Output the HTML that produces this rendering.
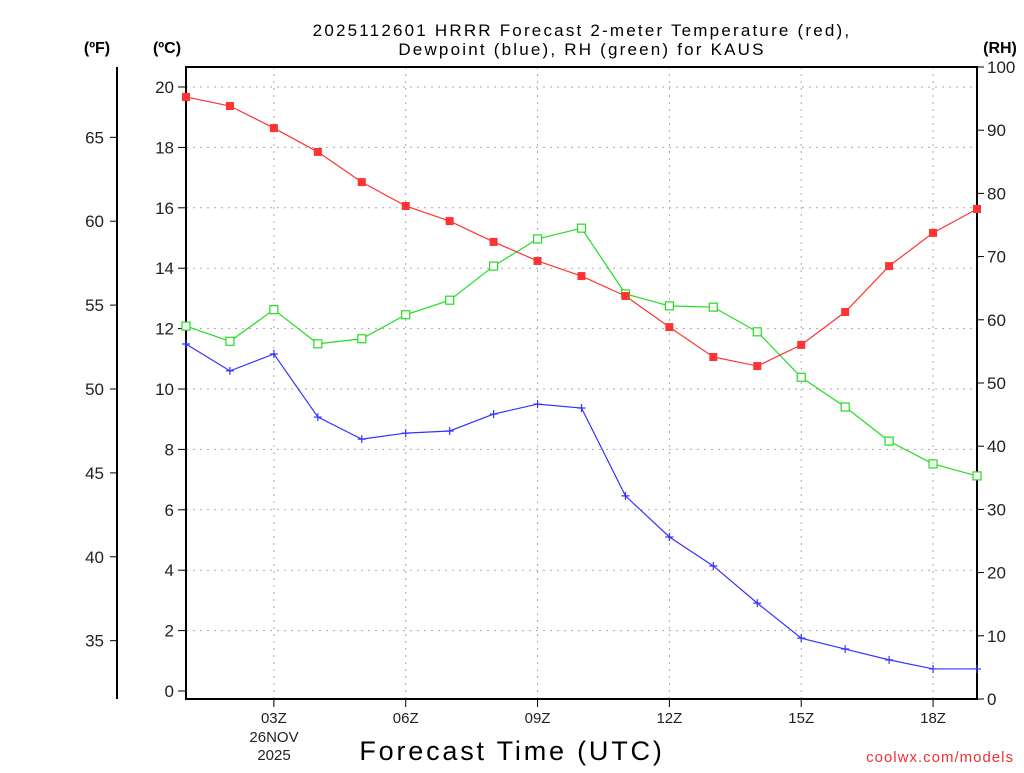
<!DOCTYPE html>
<html><head><meta charset="utf-8"><style>
body{margin:0;background:#fff;width:1024px;height:768px;overflow:hidden}
svg text{font-family:"Liberation Sans",sans-serif}
</style></head><body>
<svg id="chart" width="1024" height="768" xmlns="http://www.w3.org/2000/svg">
<g id="grid"></g>
<g id="axes"></g>
<g id="series"></g>
<text x="582" y="36" text-anchor="middle" font-size="17" letter-spacing="2.2" fill="#000">2025112601 HRRR Forecast 2-meter Temperature (red),</text>
<text x="582" y="55" text-anchor="middle" font-size="17" letter-spacing="2.2" fill="#000">Dewpoint (blue), RH (green) for KAUS</text>
<text x="97" y="53" text-anchor="middle" font-size="16" font-weight="bold">(ºF)</text>
<text x="167" y="53" text-anchor="middle" font-size="16" font-weight="bold">(ºC)</text>
<text x="1000" y="53" text-anchor="middle" font-size="16" font-weight="bold">(RH)</text>
<text x="512" y="760" text-anchor="middle" font-size="27" letter-spacing="2.8">Forecast Time (UTC)</text>
<text x="274" y="742" text-anchor="middle" font-size="15" fill="#222">26NOV</text>
<text x="274" y="760" text-anchor="middle" font-size="15" fill="#222">2025</text>
<text x="1014" y="762" text-anchor="end" font-size="15" fill="#e33" letter-spacing="1">coolwx.com/models</text>
</svg>
<script>
const hours=[1,2,3,4,5,6,7,8,9,10,11,12,13,14,15,16,17,18,19];
const tempC=[19.67,19.37,18.64,17.85,16.85,16.06,15.56,14.87,14.24,13.74,13.08,12.05,11.06,10.76,11.46,12.55,14.07,15.17,15.96];
const dewC=[11.49,10.6,11.16,9.07,8.34,8.54,8.61,9.17,9.5,9.37,6.46,5.1,4.14,2.91,1.75,1.39,1.03,0.73,0.73];
const rh=[59.0,56.6,61.6,56.2,57.0,60.8,63.1,68.5,72.8,74.5,64.1,62.2,62.0,58.1,50.9,46.2,40.8,37.2,35.3];
const cTicks=[0,2,4,6,8,10,12,14,16,18,20];
const fTicks=[35,40,45,50,55,60,65];
const rhTicks=[0,10,20,30,40,50,60,70,80,90,100];
const xTicks=[3,6,9,12,15,18];
const xTickLabels=["03Z","06Z","09Z","12Z","15Z","18Z"];
const L=186,R=977,T=67,B=699;
const x=h=>L+(h-1)*(R-L)/18;
const yC=c=>691-c*30.2;
const yRH=v=>B-v*(B-T)/100;
const yF=f=>yC((f-32)*5/9);
const NS="http://www.w3.org/2000/svg";
function mk(p,tag,at,txt){const e=document.createElementNS(NS,tag);for(const k in at)e.setAttribute(k,at[k]);if(txt!==undefined)e.textContent=txt;p.appendChild(e);return e;}
const grid=document.getElementById('grid'),axes=document.getElementById('axes'),ser=document.getElementById('series');
cTicks.forEach(c=>{if(c>0){const g=mk(grid,'line',{x1:L,x2:R,y1:yC(c),y2:yC(c),stroke:'#aaa','stroke-dasharray':'2,5'});

}
const t=mk(axes,'line',{x1:L-8,x2:L,y1:yC(c),y2:yC(c),stroke:'#000'});


const l=mk(axes,'text',{x:L-12,y:yC(c)+6,'text-anchor':'end','font-size':17,fill:'#222'},String(c));

});
xTicks.forEach((h,i)=>{const g=mk(grid,'line',{x1:x(h),x2:x(h),y1:T,y2:B,stroke:'#aaa','stroke-dasharray':'2,5'});


const t=mk(axes,'line',{x1:x(h),x2:x(h),y1:B,y2:B+8,stroke:'#000'});


const l=mk(axes,'text',{x:x(h),y:B+24,'text-anchor':'middle','font-size':15,fill:'#222'},xTickLabels[i]);

});
rhTicks.forEach(v=>{const t=mk(axes,'line',{x1:R,x2:R+7,y1:yRH(v),y2:yRH(v),stroke:'#000'});


const l=mk(axes,'text',{x:R+10,y:yRH(v)+6,'font-size':17,fill:'#222'},String(v));

});
const fl=mk(axes,'line',{x1:117,x2:117,y1:T,y2:B,stroke:'#000','stroke-width':2});


fTicks.forEach(f=>{const t=mk(axes,'line',{x1:110,x2:117,y1:yF(f),y2:yF(f),stroke:'#000'});


const l=mk(axes,'text',{x:104,y:yF(f)+6,'text-anchor':'end','font-size':17,fill:'#222'},String(f));

});
const box=mk(axes,'rect',{x:L,y:T,width:R-L,height:B-T,fill:'none',stroke:'#000','stroke-width':2});


function pts(arr,yf){return arr.map((v,i)=>x(hours[i])+','+yf(v)).join(' ');}
const lr=mk(ser,'polyline',{points:pts(rh,yRH),fill:'none',stroke:'#2d2',"stroke-width":1.2});


const lt=mk(ser,'polyline',{points:pts(tempC,yC),fill:'none',stroke:'#f33',"stroke-width":1.2});


const ld=mk(ser,'polyline',{points:pts(dewC,yC),fill:'none',stroke:'#33f',"stroke-width":1.2});


rh.forEach((v,i)=>{const m=mk(ser,'rect',{x:x(hours[i])-4,y:yRH(v)-4,width:8,height:8,fill:'#fff',stroke:'#2d2','stroke-width':1.2});

});
tempC.forEach((v,i)=>{const m=mk(ser,'rect',{x:x(hours[i])-4,y:yC(v)-4,width:8,height:8,fill:'#f33'});

});
dewC.forEach((v,i)=>{const m=mk(ser,'path',{d:`M${x(hours[i])-4},${yC(v)}h8M${x(hours[i])},${yC(v)-4}v8`,stroke:'#33f','stroke-width':1.2});

});
</script>
</body></html>
